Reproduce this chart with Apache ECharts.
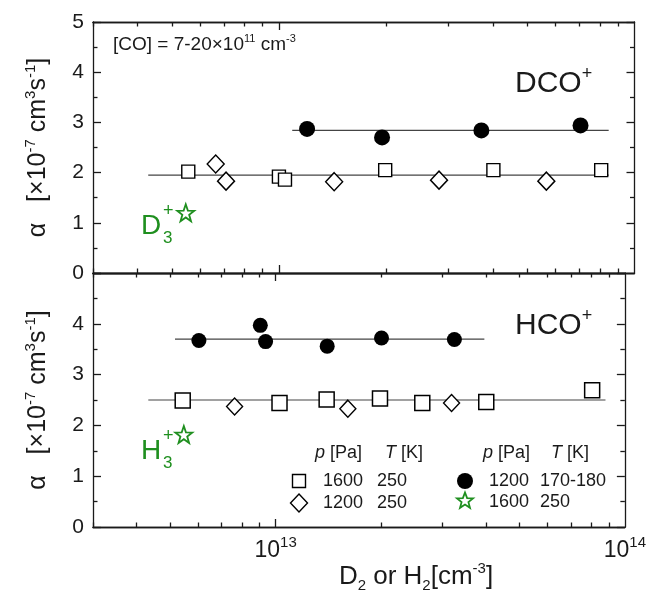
<!DOCTYPE html>
<html><head><meta charset="utf-8">
<script src="https://cdn.jsdelivr.net/npm/echarts@6/dist/echarts.min.js"></script>
<style>html,body{margin:0;padding:0;background:#fff}#c{width:649px;height:591px}</style>
</head><body><div id="c"></div>
<script>
// ---------- DATA ----------
// Top panel: DCO+
const dcoSquares  = [[5.56e12,2.02],[1.0e13,1.92],[1.04e13,1.86],[1.99e13,2.05],[4.01e13,2.05],[8.06e13,2.05]];
const dcoDiamonds = [[6.64e12,2.17],[7.1e12,1.83],[1.43e13,1.82],[2.82e13,1.85],[5.65e13,1.83]];
const dcoCircles  = [[1.2e13,2.87],[1.95e13,2.70],[3.71e13,2.84],[7.05e13,2.94]];
const dcoStar     = [[5.47e12,1.20]];
const dcoFitCirclesX = [1.09e13, 8.46e13];
const dcoFitCirclesY = 2.84;
const dcoFitOpenX = [4.29e12, 8.46e13];
const dcoFitOpenY = 1.95;
// Bottom panel: HCO+
const hcoSquares  = [[5.42e12,2.49],[1.026e13,2.44],[1.40e13,2.51],[1.99e13,2.53],[2.63e13,2.44],[4.01e13,2.46],[8.06e13,2.69]];
const hcoDiamonds = [[7.63e12,2.37],[1.61e13,2.33],[3.19e13,2.44]];
const hcoCircles  = [[6.03e12,3.67],[9.04e12,3.97],[9.36e12,3.65],[1.405e13,3.56],[2.01e13,3.72],[3.25e13,3.69]];
const hcoStar     = [[5.46e12,1.82]];
const hcoFitCirclesX = [5.15e12, 3.96e13];
const hcoFitCirclesY = 3.70;
const hcoFitOpenX = [4.32e12, 8.8e13];
const hcoFitOpenY = 2.50;
// Axis ticks / labels
const xMinorTicks = [3e12,4e12,5e12,6e12,7e12,8e12,9e12,2e13,3e13,4e13,5e13,6e13,7e13,8e13,9e13];
const xMajorTicks = [1e13];
const xLabelValues = [1e13, 1e14];
const yLabelsTop = [0,1,2,3,4,5];
const yLabelsBottom = [0,1,2,3,4];

// ---------- STYLE ----------
const FONT = '"Liberation Sans", Arial, Helvetica, sans-serif';
const INK = '#1a1a1a';
const GREEN = '#1f8f1f';
const LINE = { color: INK, width: 1.3 };
const STAR = 'path://M0,-10L2.35,-3.24L9.51,-3.09L3.8,1.24L5.88,8.09L0,4L-5.88,8.09L-3.8,1.24L-9.51,-3.09L-2.35,-3.24Z';

function makeX(gridIndex, position, tickVals, tickLen, withLabels) {
  const ax = {
    type: 'log', logBase: 10, gridIndex, position, min: 3e12, max: 1e14,
    axisLine: { show: true, onZero: false, lineStyle: LINE },
    axisTick: { show: true, inside: true, length: tickLen, customValues: tickVals, lineStyle: LINE },
    minorTick: { show: false }, splitLine: { show: false }, minorSplitLine: { show: false },
    axisLabel: { show: false }
  };
  if (withLabels) {
    ax.axisLabel = {
      show: true, customValues: xLabelValues, margin: 8,
      formatter: v => '{b|10}{s|' + Math.round(Math.log10(v)) + '}',
      rich: {
        b: { fontSize: 23, fontFamily: FONT, color: INK, lineHeight: 32, verticalAlign: 'middle' },
        s: { fontSize: 15, fontFamily: FONT, color: INK, lineHeight: 12, verticalAlign: 'top' }
      }
    };
  }
  return ax;
}

function makeY(gridIndex, position, labels) {
  const ax = {
    type: 'value', gridIndex, position, min: 0, max: 5, interval: 1,
    axisLine: { show: true, onZero: false, lineStyle: LINE },
    axisTick: { show: true, inside: true, length: 8, lineStyle: LINE },
    minorTick: { show: true, splitNumber: 2, length: 4.5, lineStyle: LINE },
    splitLine: { show: false }, minorSplitLine: { show: false },
    axisLabel: { show: false }
  };
  if (labels) {
    ax.axisLabel = {
      show: true, margin: 9, fontSize: 21, fontFamily: FONT, color: INK,
      formatter: v => labels.indexOf(v) >= 0 ? String(v) : ''
    };
    ax.name = '{t|α   [×10}{s|-7}{t| cm}{s|3}{t|s}{s|-1}{t|]}';
    ax.nameLocation = 'middle';
    ax.nameRotate = 90;
    ax.nameGap = 40;
    ax.nameTextStyle = {
      rich: {
        t: { fontSize: 25, fontFamily: FONT, color: INK, lineHeight: 30, verticalAlign: 'middle' },
        s: { fontSize: 15, fontFamily: FONT, color: INK, lineHeight: 14, verticalAlign: 'top' }
      }
    };
  }
  return ax;
}

function fitLine(xs, y, xi, yi) {
  return { type: 'line', xAxisIndex: xi, yAxisIndex: yi, data: [[xs[0], y], [xs[1], y]],
    symbol: 'none', silent: true, lineStyle: { color: '#444', width: 1.2 }, z: 1 };
}
function scat(data, xi, yi, symbol, size, fill, stroke, bw) {
  return { type: 'scatter', xAxisIndex: xi, yAxisIndex: yi, data, symbol, symbolSize: size, silent: true, z: 3,
    itemStyle: { color: fill, borderColor: stroke, borderWidth: bw, opacity: 1 } };
}

const option = {
  animation: false,
  backgroundColor: '#fff',
  grid: [
    { left: 93, right: 14.5, top: 22, height: 251 },
    { left: 93, right: 14.5, top: 273, height: 254 }
  ],
  xAxis: [
    makeX(0, 'bottom', xMinorTicks, 4.5, false),
    makeX(0, 'bottom', xMajorTicks, 8, false),
    makeX(0, 'top', xMinorTicks, 4.5, false),
    makeX(0, 'top', xMajorTicks, 8, false),
    makeX(1, 'bottom', xMinorTicks, 4.5, true),
    makeX(1, 'bottom', xMajorTicks, 8, false),
    makeX(1, 'top', xMinorTicks, 4.5, false),
    makeX(1, 'top', xMajorTicks, 8, false)
  ],
  yAxis: [
    makeY(0, 'left', yLabelsTop),
    makeY(0, 'right', null),
    makeY(1, 'left', yLabelsBottom),
    makeY(1, 'right', null)
  ],
  series: [
    fitLine(dcoFitCirclesX, dcoFitCirclesY, 0, 0),
    fitLine(dcoFitOpenX, dcoFitOpenY, 0, 0),
    scat(dcoDiamonds, 0, 0, 'diamond', [17, 18], '#fff', '#000', 1.4),
    scat(dcoSquares, 0, 0, 'rect', 13, '#fff', '#000', 1.4),
    scat(dcoCircles, 0, 0, 'circle', 16, '#000', '#000', 0),
    scat(dcoStar, 0, 0, STAR, 17, 'rgba(255,255,255,0)', GREEN, 1.8),
    fitLine(hcoFitCirclesX, hcoFitCirclesY, 4, 2),
    fitLine(hcoFitOpenX, hcoFitOpenY, 4, 2),
    scat(hcoDiamonds, 4, 2, 'diamond', [16, 17], '#fff', '#000', 1.4),
    scat(hcoSquares, 4, 2, 'rect', 15, '#fff', '#000', 1.5),
    scat(hcoCircles, 4, 2, 'circle', 15, '#000', '#000', 0),
    scat(hcoStar, 4, 2, STAR, 17, 'rgba(255,255,255,0)', GREEN, 1.8)
  ],
  graphic: []
};

// ---------- ANNOTATIONS ----------
const G = option.graphic;
function txt(x, y, text, size, color, rich, align) {
  G.push({ type: 'text', x, y, silent: true, z: 10,
    style: { text, fontSize: size, fontFamily: FONT, fill: color || INK, align: align || 'left', verticalAlign: 'middle', rich: rich || undefined } });
}
txt(113, 45, '{t|[CO] = 7-20×10}{s|11}{t| cm}{s|-3}', 19, INK,
  { t: { fontSize: 19, fontFamily: FONT, fill: INK, lineHeight: 24, verticalAlign: 'middle' },
    s: { fontSize: 11, fontFamily: FONT, fill: INK, lineHeight: 11, verticalAlign: 'top' } });
const bigRich = { t: { fontSize: 30, fontFamily: FONT, fill: INK, lineHeight: 38, verticalAlign: 'middle' },
                  s: { fontSize: 18, fontFamily: FONT, fill: INK, lineHeight: 18, verticalAlign: 'top' } };
txt(515, 84, '{t|DCO}{s|+}', 30, INK, bigRich);
txt(515, 326, '{t|HCO}{s|+}', 30, INK, bigRich);
// x-axis title (placed right of centre, as in the original)
txt(416, 577, '{t|D}{u|2}{t| or H}{u|2}{t|[cm}{s|-3}{t|]}', 26, INK, {
  t: { fontSize: 26, fontFamily: FONT, fill: INK, lineHeight: 32, verticalAlign: 'middle' },
  s: { fontSize: 15, fontFamily: FONT, fill: INK, lineHeight: 14, verticalAlign: 'top' },
  u: { fontSize: 15, fontFamily: FONT, fill: INK, lineHeight: 12, verticalAlign: 'bottom' }
}, 'center');
// D3+ / H3+ labels (stacked sub/sup)
function ionLabel(x, yMid, letter) {
  txt(x, yMid, letter, 28, GREEN);
  txt(x + 22, yMid + 12, '3', 17, GREEN);
  txt(x + 22, yMid - 15, '+', 18, GREEN);
}
ionLabel(141, 226, 'D');
ionLabel(141, 451, 'H');

// ---------- LEGEND ----------
const legRich = { i: { fontStyle: 'italic', fontSize: 18, fontFamily: FONT, fill: INK } };
const LF = 18;
txt(315, 453, '{i|p} [Pa]', LF, INK, legRich);
txt(385, 453, '{i|T} [K]', LF, INK, legRich);
txt(483, 453, '{i|p} [Pa]', LF, INK, legRich);
txt(551, 453, '{i|T} [K]', LF, INK, legRich);
txt(323, 481, '1600', LF); txt(377, 481, '250', LF);
txt(323, 503, '1200', LF); txt(377, 503, '250', LF);
txt(489, 481, '1200', LF); txt(540, 481, '170-180', LF);
txt(489, 502, '1600', LF); txt(540, 502, '250', LF);
G.push({ type: 'rect', x: 299, y: 481, silent: true, shape: { x: -6.5, y: -6.5, width: 13, height: 13 },
  style: { fill: '#fff', stroke: '#000', lineWidth: 1.4 } });
G.push({ type: 'polygon', x: 299, y: 503, silent: true, shape: { points: [[0, -9], [8.5, 0], [0, 9], [-8.5, 0]] },
  style: { fill: '#fff', stroke: '#000', lineWidth: 1.4 } });
G.push({ type: 'circle', x: 465, y: 481, silent: true, shape: { cx: 0, cy: 0, r: 8 }, style: { fill: '#000' } });
const starPts = [];
for (let k = 0; k < 10; k++) {
  const r = k % 2 === 0 ? 8.5 : 3.6;
  const a = -Math.PI / 2 + k * Math.PI / 5;
  starPts.push([r * Math.cos(a), r * Math.sin(a)]);
}
G.push({ type: 'polygon', x: 465, y: 501, silent: true, shape: { points: starPts },
  style: { fill: 'none', stroke: GREEN, lineWidth: 1.8 } });

const chart = echarts.init(document.getElementById('c'), null, { renderer: 'canvas' });
chart.setOption(option);
</script>
</body></html>
